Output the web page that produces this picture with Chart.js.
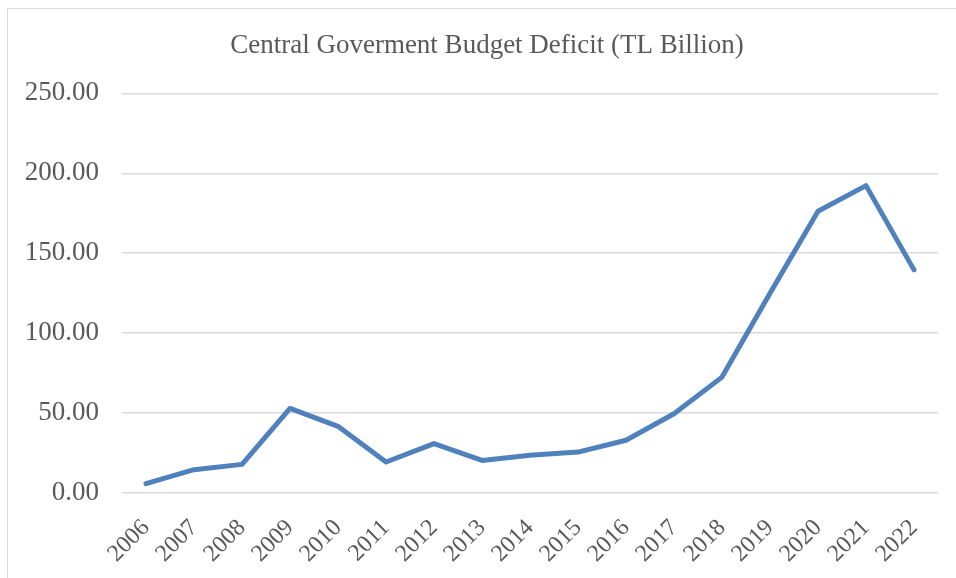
<!DOCTYPE html>
<html>
<head>
<meta charset="utf-8">
<script src="https://cdn.jsdelivr.net/npm/chart.js@4.4.0/dist/chart.umd.min.js"></script>
<style>
    html, body { margin: 0; padding: 0; background: #ffffff; }
    .chart-box { position: relative; width: 956px; height: 578px; overflow: hidden; }
    .frame { position: absolute; left: 7px; top: 8px; width: 1000px; height: 1000px; border: 1px solid #d9d9d9; box-sizing: border-box; pointer-events: none; }
    canvas { position: absolute; left: 0; top: 0; }
</style>
</head>
<body>
<div class="chart-box">
    <canvas id="myChart" width="956" height="578"></canvas>
    <div class="frame"></div>
</div>
<script>
"use strict"

const TITLE = "Central Goverment Budget Deficit (TL Billion)"
const YEARS = ["2006", "2007", "2008", "2009", "2010", "2011", "2012", "2013", "2014",
    "2015", "2016", "2017", "2018", "2019", "2020", "2021", "2022"]
const DEFICIT = [5.9, 14.6, 17.9, 52.9, 41.7, 19.4, 30.9, 20.4, 23.6,
    25.6, 33.0, 49.6, 72.5, 125.0, 176.3, 192.3, 139.6]
const Y_MIN = 0
const Y_MAX = 250
const Y_STEP = 50

const SERIF = "'Liberation Serif', 'Times New Roman', serif"
const TEXT_GRAY = '#595959'

function drawLineChart(labels, values) {
    const ctx = document.getElementById('myChart').getContext('2d')
    const chart = new Chart(ctx, {
        type: 'line',
        data: {
            labels: labels,
            datasets: [{
                label: TITLE,
                data: values,
                borderColor: '#4f81bd',
                borderWidth: 5,
                pointRadius: 0,
                tension: 0,
                fill: false,
                borderJoinStyle: 'round',
                borderCapStyle: 'round',
            }]
        },
        options: {
            responsive: false,
            animation: false,
            // title is centred on the whole frame, so pad left and keep a spacer axis on the right
            layout: { padding: { left: 18, right: 0, top: 0, bottom: 0 } },
            plugins: {
                legend: { display: false },
                tooltip: { enabled: false },
                title: {
                    display: true,
                    text: TITLE,
                    color: TEXT_GRAY,
                    font: { family: SERIF, size: 27, weight: 'normal' },
                    padding: { top: 30, bottom: 31 },
                },
            },
            scales: {
                x: {
                    offset: true,
                    grid: { display: false },
                    border: { display: false },
                    ticks: {
                        color: TEXT_GRAY,
                        font: { family: SERIF, size: 24 },
                        maxRotation: 45,
                        minRotation: 45,
                        autoSkip: false,
                        padding: 13,
                    },
                    afterFit: axis => { axis.height = 85 },
                },
                y: {
                    min: Y_MIN,
                    max: Y_MAX,
                    grid: { color: '#d9d9d9', lineWidth: 1.5, drawTicks: false },
                    border: { display: false },
                    ticks: {
                        stepSize: Y_STEP,
                        color: TEXT_GRAY,
                        font: { family: SERIF, size: 27 },
                        padding: 23,
                        callback: v => v.toFixed(2),
                    },
                    afterFit: axis => { axis.width = 104 },
                },
                spacer: {
                    type: 'linear',
                    position: 'right',
                    grid: { display: false },
                    border: { display: false },
                    ticks: { display: false },
                    afterFit: axis => { axis.width = 18 },
                }
            }
        }
    })
    return chart
}

drawLineChart(YEARS, DEFICIT)
</script>
</body>
</html>
